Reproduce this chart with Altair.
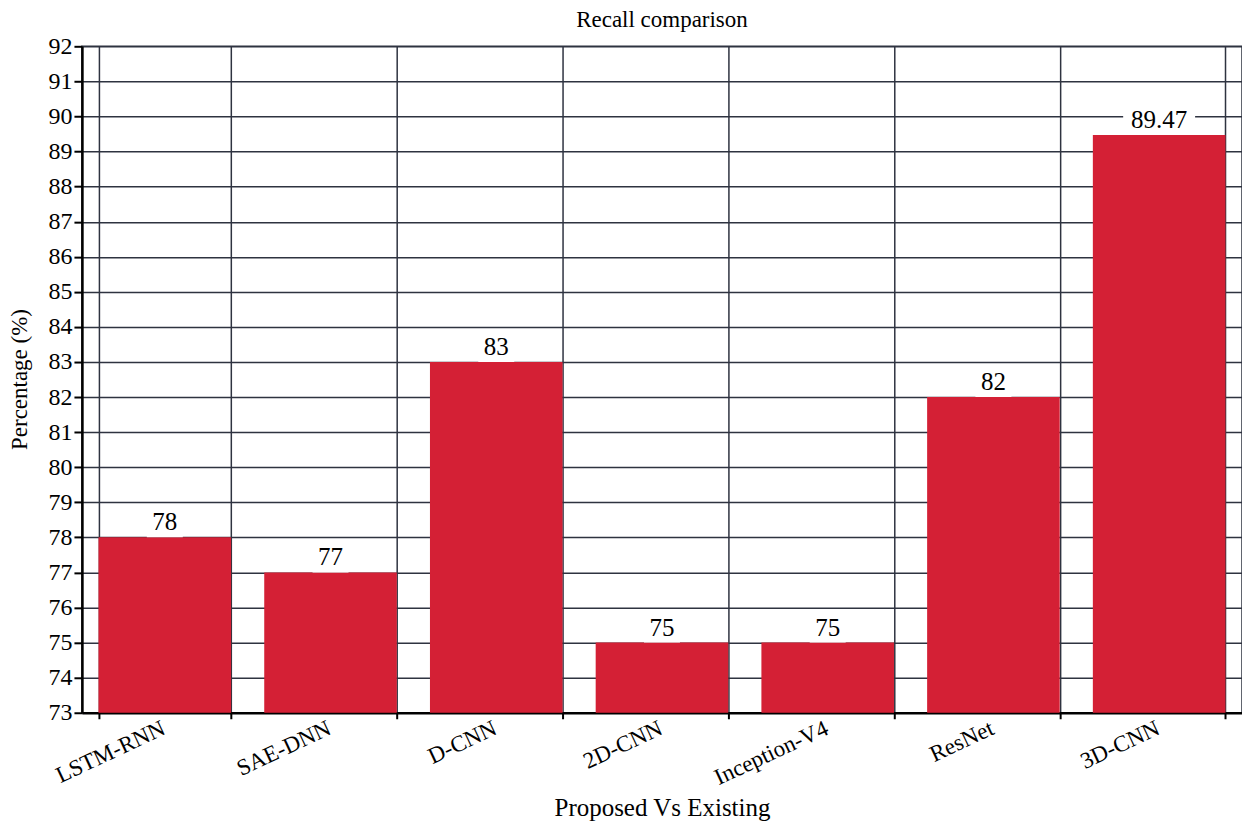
import altair as alt
import pandas as pd

models = ["LSTM-RNN", "SAE-DNN", "D-CNN", "2D-CNN", "Inception-V4", "ResNet", "3D-CNN"]
recall = [78, 77, 83, 75, 75, 82, 89.47]
labels = ["78", "77", "83", "75", "75", "82", "89.47"]
y_ticks = list(range(73, 93))

df = pd.DataFrame({"model": models, "recall": recall, "label": labels})

FONT = "Liberation Serif"
GRID = "#2e3340"

x_enc = alt.X("model:N", sort=models, title="Proposed Vs Existing",
              scale=alt.Scale(paddingInner=0.2, paddingOuter=0.1),
              axis=alt.Axis(labelAngle=-25, labelFontSize=23, labelFont=FONT,
                            labelColor="black", titleFont=FONT, titleFontSize=25,
                            titleFontWeight="normal", titleColor="black",
                            tickBand="extent", grid=True, gridColor=GRID, gridWidth=1.5,
                            domainColor="black", domainWidth=2.5, tickColor="black",
                            tickSize=6, tickWidth=2, labelPadding=-2,
                            labelAlign="right", labelBaseline="top", labelOffset=-6,
                            labelOverlap=False, titleY=95, titleBaseline="middle"))
y_enc = alt.Y("recall:Q", title="Percentage (%)",
              scale=alt.Scale(domain=[73, 92], nice=False, zero=False),
              axis=alt.Axis(values=y_ticks, labelFontSize=24, labelFont=FONT,
                            labelColor="black", titleFont=FONT, titleFontSize=23,
                            titleFontWeight="normal", titleColor="black",
                            grid=True, gridColor=GRID, gridWidth=1.5,
                            domainColor="black", domainWidth=2.5, tickColor="black",
                            tickSize=8, tickWidth=2, labelPadding=2,
                            labelOverlap=False, labelFlush=False,
                            titleX=-62, titleY=333, titleBaseline="middle"))

base = alt.Chart(df)
bars = base.mark_bar(color="#d42035", clip=True).encode(x=x_enc, y=y_enc)
boxes = base.transform_calculate(
    top="datum.recall + 0.72",
    bw="length(datum.label) * 12 + 12",
).mark_bar(color="white").encode(
    x=x_enc, y=y_enc, y2="top:Q",
    size=alt.Size("bw:Q", scale=None, legend=None))
text = base.mark_text(dy=-15, fontSize=25, font=FONT, color="black").encode(
    x=x_enc, y=y_enc, text="label:N")

chart = alt.layer(bars, boxes, text).properties(
    width=1161, height=667,
    title=alt.TitleParams("Recall comparison", font=FONT, fontSize=23,
                          fontWeight="normal", color="black", offset=2,
                          frame="group", anchor="middle"),
    autosize=alt.AutoSizeParams(type="none"),
    padding={"left": 74, "top": 38, "right": 0, "bottom": 110},
).configure_view(stroke=GRID, strokeWidth=1.5)

chart.save("out.html", embed_options={"renderer": "svg", "actions": False})
